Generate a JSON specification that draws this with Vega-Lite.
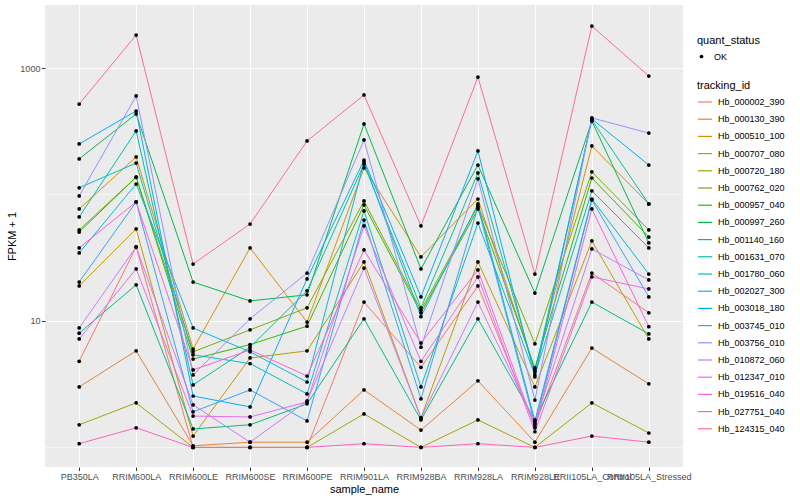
{
"$schema":"https://vega.github.io/schema/vega-lite/v6.json",
"width":638,"height":462,
"autosize":{"type":"none"},
"padding":{"left":45,"top":5,"right":117,"bottom":33},
"background":"white",
"config":{"font":"Liberation Sans","view":{"fill":"#EBEBEB","stroke":null},
"axis":{"domain":false,"gridColor":"white","gridWidth":1.1,"tickColor":"#333333","tickSize":3.6,"tickWidth":1,"labelColor":"#4D4D4D","labelFontSize":9,"labelPadding":1.5,"titleFontSize":11,"titleFontWeight":"normal","titleColor":"black"},
"legend":{"titleFontSize":11,"titleFontWeight":"normal","titleColor":"black","labelFontSize":9,"labelColor":"black","padding":0}},
"datasets":{"d":[
{"tracking_id":"Hb_000002_390","sample_name":"PB350LA","fpkm":4.8,"quant_status":"OK"},
{"tracking_id":"Hb_000002_390","sample_name":"RRIM600LA","fpkm":38.5,"quant_status":"OK"},
{"tracking_id":"Hb_000002_390","sample_name":"RRIM600LE","fpkm":1,"quant_status":"OK"},
{"tracking_id":"Hb_000002_390","sample_name":"RRIM600SE","fpkm":1,"quant_status":"OK"},
{"tracking_id":"Hb_000002_390","sample_name":"RRIM600PE","fpkm":1,"quant_status":"OK"},
{"tracking_id":"Hb_000002_390","sample_name":"RRIM901LA","fpkm":14.1,"quant_status":"OK"},
{"tracking_id":"Hb_000002_390","sample_name":"RRIM928BA","fpkm":4.3,"quant_status":"OK"},
{"tracking_id":"Hb_000002_390","sample_name":"RRIM928LA","fpkm":18.9,"quant_status":"OK"},
{"tracking_id":"Hb_000002_390","sample_name":"RRIM928LE","fpkm":1.48,"quant_status":"OK"},
{"tracking_id":"Hb_000002_390","sample_name":"RRII105LA_Control","fpkm":23.9,"quant_status":"OK"},
{"tracking_id":"Hb_000002_390","sample_name":"RRII105LA_Stressed","fpkm":11.6,"quant_status":"OK"},
{"tracking_id":"Hb_000130_390","sample_name":"PB350LA","fpkm":3.01,"quant_status":"OK"},
{"tracking_id":"Hb_000130_390","sample_name":"RRIM600LA","fpkm":5.8,"quant_status":"OK"},
{"tracking_id":"Hb_000130_390","sample_name":"RRIM600LE","fpkm":1.03,"quant_status":"OK"},
{"tracking_id":"Hb_000130_390","sample_name":"RRIM600SE","fpkm":1.1,"quant_status":"OK"},
{"tracking_id":"Hb_000130_390","sample_name":"RRIM600PE","fpkm":1.1,"quant_status":"OK"},
{"tracking_id":"Hb_000130_390","sample_name":"RRIM901LA","fpkm":2.85,"quant_status":"OK"},
{"tracking_id":"Hb_000130_390","sample_name":"RRIM928BA","fpkm":1.37,"quant_status":"OK"},
{"tracking_id":"Hb_000130_390","sample_name":"RRIM928LA","fpkm":3.36,"quant_status":"OK"},
{"tracking_id":"Hb_000130_390","sample_name":"RRIM928LE","fpkm":1.1,"quant_status":"OK"},
{"tracking_id":"Hb_000130_390","sample_name":"RRII105LA_Control","fpkm":6.1,"quant_status":"OK"},
{"tracking_id":"Hb_000130_390","sample_name":"RRII105LA_Stressed","fpkm":3.18,"quant_status":"OK"},
{"tracking_id":"Hb_000510_100","sample_name":"PB350LA","fpkm":76.8,"quant_status":"OK"},
{"tracking_id":"Hb_000510_100","sample_name":"RRIM600LA","fpkm":198,"quant_status":"OK"},
{"tracking_id":"Hb_000510_100","sample_name":"RRIM600LE","fpkm":6.0,"quant_status":"OK"},
{"tracking_id":"Hb_000510_100","sample_name":"RRIM600SE","fpkm":37.8,"quant_status":"OK"},
{"tracking_id":"Hb_000510_100","sample_name":"RRIM600PE","fpkm":9.8,"quant_status":"OK"},
{"tracking_id":"Hb_000510_100","sample_name":"RRIM901LA","fpkm":162,"quant_status":"OK"},
{"tracking_id":"Hb_000510_100","sample_name":"RRIM928BA","fpkm":32.1,"quant_status":"OK"},
{"tracking_id":"Hb_000510_100","sample_name":"RRIM928LA","fpkm":92.1,"quant_status":"OK"},
{"tracking_id":"Hb_000510_100","sample_name":"RRIM928LE","fpkm":4.1,"quant_status":"OK"},
{"tracking_id":"Hb_000510_100","sample_name":"RRII105LA_Control","fpkm":242,"quant_status":"OK"},
{"tracking_id":"Hb_000510_100","sample_name":"RRII105LA_Stressed","fpkm":84.1,"quant_status":"OK"},
{"tracking_id":"Hb_000707_080","sample_name":"PB350LA","fpkm":18.9,"quant_status":"OK"},
{"tracking_id":"Hb_000707_080","sample_name":"RRIM600LA","fpkm":53.4,"quant_status":"OK"},
{"tracking_id":"Hb_000707_080","sample_name":"RRIM600LE","fpkm":1.23,"quant_status":"OK"},
{"tracking_id":"Hb_000707_080","sample_name":"RRIM600SE","fpkm":5.1,"quant_status":"OK"},
{"tracking_id":"Hb_000707_080","sample_name":"RRIM600PE","fpkm":5.8,"quant_status":"OK"},
{"tracking_id":"Hb_000707_080","sample_name":"RRIM901LA","fpkm":29.3,"quant_status":"OK"},
{"tracking_id":"Hb_000707_080","sample_name":"RRIM928BA","fpkm":1.71,"quant_status":"OK"},
{"tracking_id":"Hb_000707_080","sample_name":"RRIM928LA","fpkm":29.3,"quant_status":"OK"},
{"tracking_id":"Hb_000707_080","sample_name":"RRIM928LE","fpkm":3.01,"quant_status":"OK"},
{"tracking_id":"Hb_000707_080","sample_name":"RRII105LA_Control","fpkm":42.9,"quant_status":"OK"},
{"tracking_id":"Hb_000707_080","sample_name":"RRII105LA_Stressed","fpkm":7.2,"quant_status":"OK"},
{"tracking_id":"Hb_000720_180","sample_name":"PB350LA","fpkm":1.51,"quant_status":"OK"},
{"tracking_id":"Hb_000720_180","sample_name":"RRIM600LA","fpkm":2.25,"quant_status":"OK"},
{"tracking_id":"Hb_000720_180","sample_name":"RRIM600LE","fpkm":1,"quant_status":"OK"},
{"tracking_id":"Hb_000720_180","sample_name":"RRIM600SE","fpkm":1,"quant_status":"OK"},
{"tracking_id":"Hb_000720_180","sample_name":"RRIM600PE","fpkm":1,"quant_status":"OK"},
{"tracking_id":"Hb_000720_180","sample_name":"RRIM901LA","fpkm":1.84,"quant_status":"OK"},
{"tracking_id":"Hb_000720_180","sample_name":"RRIM928BA","fpkm":1,"quant_status":"OK"},
{"tracking_id":"Hb_000720_180","sample_name":"RRIM928LA","fpkm":1.65,"quant_status":"OK"},
{"tracking_id":"Hb_000720_180","sample_name":"RRIM928LE","fpkm":1,"quant_status":"OK"},
{"tracking_id":"Hb_000720_180","sample_name":"RRII105LA_Control","fpkm":2.25,"quant_status":"OK"},
{"tracking_id":"Hb_000720_180","sample_name":"RRII105LA_Stressed","fpkm":1.3,"quant_status":"OK"},
{"tracking_id":"Hb_000762_020","sample_name":"PB350LA","fpkm":52.4,"quant_status":"OK"},
{"tracking_id":"Hb_000762_020","sample_name":"RRIM600LA","fpkm":137,"quant_status":"OK"},
{"tracking_id":"Hb_000762_020","sample_name":"RRIM600LE","fpkm":5.7,"quant_status":"OK"},
{"tracking_id":"Hb_000762_020","sample_name":"RRIM600SE","fpkm":8.5,"quant_status":"OK"},
{"tracking_id":"Hb_000762_020","sample_name":"RRIM600PE","fpkm":12.7,"quant_status":"OK"},
{"tracking_id":"Hb_000762_020","sample_name":"RRIM901LA","fpkm":88.9,"quant_status":"OK"},
{"tracking_id":"Hb_000762_020","sample_name":"RRIM928BA","fpkm":12.2,"quant_status":"OK"},
{"tracking_id":"Hb_000762_020","sample_name":"RRIM928LA","fpkm":81.1,"quant_status":"OK"},
{"tracking_id":"Hb_000762_020","sample_name":"RRIM928LE","fpkm":6.6,"quant_status":"OK"},
{"tracking_id":"Hb_000762_020","sample_name":"RRII105LA_Control","fpkm":151,"quant_status":"OK"},
{"tracking_id":"Hb_000762_020","sample_name":"RRII105LA_Stressed","fpkm":52.4,"quant_status":"OK"},
{"tracking_id":"Hb_000957_040","sample_name":"PB350LA","fpkm":50.5,"quant_status":"OK"},
{"tracking_id":"Hb_000957_040","sample_name":"RRIM600LA","fpkm":137,"quant_status":"OK"},
{"tracking_id":"Hb_000957_040","sample_name":"RRIM600LE","fpkm":5.0,"quant_status":"OK"},
{"tracking_id":"Hb_000957_040","sample_name":"RRIM600SE","fpkm":6.5,"quant_status":"OK"},
{"tracking_id":"Hb_000957_040","sample_name":"RRIM600PE","fpkm":9.1,"quant_status":"OK"},
{"tracking_id":"Hb_000957_040","sample_name":"RRIM901LA","fpkm":82.6,"quant_status":"OK"},
{"tracking_id":"Hb_000957_040","sample_name":"RRIM928BA","fpkm":11.6,"quant_status":"OK"},
{"tracking_id":"Hb_000957_040","sample_name":"RRIM928LA","fpkm":76.8,"quant_status":"OK"},
{"tracking_id":"Hb_000957_040","sample_name":"RRIM928LE","fpkm":4.25,"quant_status":"OK"},
{"tracking_id":"Hb_000957_040","sample_name":"RRII105LA_Control","fpkm":135,"quant_status":"OK"},
{"tracking_id":"Hb_000957_040","sample_name":"RRII105LA_Stressed","fpkm":46.1,"quant_status":"OK"},
{"tracking_id":"Hb_000997_260","sample_name":"PB350LA","fpkm":191,"quant_status":"OK"},
{"tracking_id":"Hb_000997_260","sample_name":"RRIM600LA","fpkm":433,"quant_status":"OK"},
{"tracking_id":"Hb_000997_260","sample_name":"RRIM600LE","fpkm":20.3,"quant_status":"OK"},
{"tracking_id":"Hb_000997_260","sample_name":"RRIM600SE","fpkm":14.4,"quant_status":"OK"},
{"tracking_id":"Hb_000997_260","sample_name":"RRIM600PE","fpkm":16.1,"quant_status":"OK"},
{"tracking_id":"Hb_000997_260","sample_name":"RRIM901LA","fpkm":361,"quant_status":"OK"},
{"tracking_id":"Hb_000997_260","sample_name":"RRIM928BA","fpkm":25.8,"quant_status":"OK"},
{"tracking_id":"Hb_000997_260","sample_name":"RRIM928LA","fpkm":171,"quant_status":"OK"},
{"tracking_id":"Hb_000997_260","sample_name":"RRIM928LE","fpkm":16.6,"quant_status":"OK"},
{"tracking_id":"Hb_000997_260","sample_name":"RRII105LA_Control","fpkm":381,"quant_status":"OK"},
{"tracking_id":"Hb_000997_260","sample_name":"RRII105LA_Stressed","fpkm":41.4,"quant_status":"OK"},
{"tracking_id":"Hb_001140_160","sample_name":"PB350LA","fpkm":8.0,"quant_status":"OK"},
{"tracking_id":"Hb_001140_160","sample_name":"RRIM600LA","fpkm":19.3,"quant_status":"OK"},
{"tracking_id":"Hb_001140_160","sample_name":"RRIM600LE","fpkm":1.4,"quant_status":"OK"},
{"tracking_id":"Hb_001140_160","sample_name":"RRIM600SE","fpkm":1.51,"quant_status":"OK"},
{"tracking_id":"Hb_001140_160","sample_name":"RRIM600PE","fpkm":2.21,"quant_status":"OK"},
{"tracking_id":"Hb_001140_160","sample_name":"RRIM901LA","fpkm":10.4,"quant_status":"OK"},
{"tracking_id":"Hb_001140_160","sample_name":"RRIM928BA","fpkm":1.65,"quant_status":"OK"},
{"tracking_id":"Hb_001140_160","sample_name":"RRIM928LA","fpkm":10.4,"quant_status":"OK"},
{"tracking_id":"Hb_001140_160","sample_name":"RRIM928LE","fpkm":1.65,"quant_status":"OK"},
{"tracking_id":"Hb_001140_160","sample_name":"RRII105LA_Control","fpkm":14.1,"quant_status":"OK"},
{"tracking_id":"Hb_001140_160","sample_name":"RRII105LA_Stressed","fpkm":7.9,"quant_status":"OK"},
{"tracking_id":"Hb_001631_070","sample_name":"PB350LA","fpkm":66.4,"quant_status":"OK"},
{"tracking_id":"Hb_001631_070","sample_name":"RRIM600LA","fpkm":318,"quant_status":"OK"},
{"tracking_id":"Hb_001631_070","sample_name":"RRIM600LE","fpkm":3.12,"quant_status":"OK"},
{"tracking_id":"Hb_001631_070","sample_name":"RRIM600SE","fpkm":6.2,"quant_status":"OK"},
{"tracking_id":"Hb_001631_070","sample_name":"RRIM600PE","fpkm":17.3,"quant_status":"OK"},
{"tracking_id":"Hb_001631_070","sample_name":"RRIM901LA","fpkm":174,"quant_status":"OK"},
{"tracking_id":"Hb_001631_070","sample_name":"RRIM928BA","fpkm":12.7,"quant_status":"OK"},
{"tracking_id":"Hb_001631_070","sample_name":"RRIM928LA","fpkm":148,"quant_status":"OK"},
{"tracking_id":"Hb_001631_070","sample_name":"RRIM928LE","fpkm":3.95,"quant_status":"OK"},
{"tracking_id":"Hb_001631_070","sample_name":"RRII105LA_Control","fpkm":388,"quant_status":"OK"},
{"tracking_id":"Hb_001631_070","sample_name":"RRII105LA_Stressed","fpkm":84.1,"quant_status":"OK"},
{"tracking_id":"Hb_001780_060","sample_name":"PB350LA","fpkm":113,"quant_status":"OK"},
{"tracking_id":"Hb_001780_060","sample_name":"RRIM600LA","fpkm":177,"quant_status":"OK"},
{"tracking_id":"Hb_001780_060","sample_name":"RRIM600LE","fpkm":5.4,"quant_status":"OK"},
{"tracking_id":"Hb_001780_060","sample_name":"RRIM600SE","fpkm":4.6,"quant_status":"OK"},
{"tracking_id":"Hb_001780_060","sample_name":"RRIM600PE","fpkm":2.65,"quant_status":"OK"},
{"tracking_id":"Hb_001780_060","sample_name":"RRIM901LA","fpkm":74.1,"quant_status":"OK"},
{"tracking_id":"Hb_001780_060","sample_name":"RRIM928BA","fpkm":3.01,"quant_status":"OK"},
{"tracking_id":"Hb_001780_060","sample_name":"RRIM928LA","fpkm":59.5,"quant_status":"OK"},
{"tracking_id":"Hb_001780_060","sample_name":"RRIM928LE","fpkm":3.74,"quant_status":"OK"},
{"tracking_id":"Hb_001780_060","sample_name":"RRII105LA_Control","fpkm":107,"quant_status":"OK"},
{"tracking_id":"Hb_001780_060","sample_name":"RRII105LA_Stressed","fpkm":37.8,"quant_status":"OK"},
{"tracking_id":"Hb_002027_300","sample_name":"PB350LA","fpkm":34.5,"quant_status":"OK"},
{"tracking_id":"Hb_002027_300","sample_name":"RRIM600LA","fpkm":121,"quant_status":"OK"},
{"tracking_id":"Hb_002027_300","sample_name":"RRIM600LE","fpkm":8.8,"quant_status":"OK"},
{"tracking_id":"Hb_002027_300","sample_name":"RRIM600SE","fpkm":5.7,"quant_status":"OK"},
{"tracking_id":"Hb_002027_300","sample_name":"RRIM600PE","fpkm":3.29,"quant_status":"OK"},
{"tracking_id":"Hb_002027_300","sample_name":"RRIM901LA","fpkm":181,"quant_status":"OK"},
{"tracking_id":"Hb_002027_300","sample_name":"RRIM928BA","fpkm":10.8,"quant_status":"OK"},
{"tracking_id":"Hb_002027_300","sample_name":"RRIM928LA","fpkm":84.1,"quant_status":"OK"},
{"tracking_id":"Hb_002027_300","sample_name":"RRIM928LE","fpkm":1.62,"quant_status":"OK"},
{"tracking_id":"Hb_002027_300","sample_name":"RRII105LA_Control","fpkm":92.1,"quant_status":"OK"},
{"tracking_id":"Hb_002027_300","sample_name":"RRII105LA_Stressed","fpkm":23.5,"quant_status":"OK"},
{"tracking_id":"Hb_003018_180","sample_name":"PB350LA","fpkm":251,"quant_status":"OK"},
{"tracking_id":"Hb_003018_180","sample_name":"RRIM600LA","fpkm":457,"quant_status":"OK"},
{"tracking_id":"Hb_003018_180","sample_name":"RRIM600LE","fpkm":2.55,"quant_status":"OK"},
{"tracking_id":"Hb_003018_180","sample_name":"RRIM600SE","fpkm":2.09,"quant_status":"OK"},
{"tracking_id":"Hb_003018_180","sample_name":"RRIM600PE","fpkm":21.5,"quant_status":"OK"},
{"tracking_id":"Hb_003018_180","sample_name":"RRIM901LA","fpkm":187,"quant_status":"OK"},
{"tracking_id":"Hb_003018_180","sample_name":"RRIM928BA","fpkm":15.5,"quant_status":"OK"},
{"tracking_id":"Hb_003018_180","sample_name":"RRIM928LA","fpkm":221,"quant_status":"OK"},
{"tracking_id":"Hb_003018_180","sample_name":"RRIM928LE","fpkm":3.61,"quant_status":"OK"},
{"tracking_id":"Hb_003018_180","sample_name":"RRII105LA_Control","fpkm":396,"quant_status":"OK"},
{"tracking_id":"Hb_003018_180","sample_name":"RRII105LA_Stressed","fpkm":171,"quant_status":"OK"},
{"tracking_id":"Hb_003745_010","sample_name":"PB350LA","fpkm":20.3,"quant_status":"OK"},
{"tracking_id":"Hb_003745_010","sample_name":"RRIM600LA","fpkm":87.3,"quant_status":"OK"},
{"tracking_id":"Hb_003745_010","sample_name":"RRIM600LE","fpkm":1.91,"quant_status":"OK"},
{"tracking_id":"Hb_003745_010","sample_name":"RRIM600SE","fpkm":2.85,"quant_status":"OK"},
{"tracking_id":"Hb_003745_010","sample_name":"RRIM600PE","fpkm":1.62,"quant_status":"OK"},
{"tracking_id":"Hb_003745_010","sample_name":"RRIM901LA","fpkm":62.8,"quant_status":"OK"},
{"tracking_id":"Hb_003745_010","sample_name":"RRIM928BA","fpkm":2.42,"quant_status":"OK"},
{"tracking_id":"Hb_003745_010","sample_name":"RRIM928LA","fpkm":79.6,"quant_status":"OK"},
{"tracking_id":"Hb_003745_010","sample_name":"RRIM928LE","fpkm":1.53,"quant_status":"OK"},
{"tracking_id":"Hb_003745_010","sample_name":"RRII105LA_Control","fpkm":90.5,"quant_status":"OK"},
{"tracking_id":"Hb_003745_010","sample_name":"RRII105LA_Stressed","fpkm":15.5,"quant_status":"OK"},
{"tracking_id":"Hb_003756_010","sample_name":"PB350LA","fpkm":97.3,"quant_status":"OK"},
{"tracking_id":"Hb_003756_010","sample_name":"RRIM600LA","fpkm":601,"quant_status":"OK"},
{"tracking_id":"Hb_003756_010","sample_name":"RRIM600LE","fpkm":3.74,"quant_status":"OK"},
{"tracking_id":"Hb_003756_010","sample_name":"RRIM600SE","fpkm":10.4,"quant_status":"OK"},
{"tracking_id":"Hb_003756_010","sample_name":"RRIM600PE","fpkm":23.9,"quant_status":"OK"},
{"tracking_id":"Hb_003756_010","sample_name":"RRIM901LA","fpkm":270,"quant_status":"OK"},
{"tracking_id":"Hb_003756_010","sample_name":"RRIM928BA","fpkm":6.2,"quant_status":"OK"},
{"tracking_id":"Hb_003756_010","sample_name":"RRIM928LA","fpkm":133,"quant_status":"OK"},
{"tracking_id":"Hb_003756_010","sample_name":"RRIM928LE","fpkm":2.37,"quant_status":"OK"},
{"tracking_id":"Hb_003756_010","sample_name":"RRII105LA_Control","fpkm":403,"quant_status":"OK"},
{"tracking_id":"Hb_003756_010","sample_name":"RRII105LA_Stressed","fpkm":306,"quant_status":"OK"},
{"tracking_id":"Hb_010872_060","sample_name":"PB350LA","fpkm":8.8,"quant_status":"OK"},
{"tracking_id":"Hb_010872_060","sample_name":"RRIM600LA","fpkm":38.5,"quant_status":"OK"},
{"tracking_id":"Hb_010872_060","sample_name":"RRIM600LE","fpkm":2.17,"quant_status":"OK"},
{"tracking_id":"Hb_010872_060","sample_name":"RRIM600SE","fpkm":1.1,"quant_status":"OK"},
{"tracking_id":"Hb_010872_060","sample_name":"RRIM600PE","fpkm":2.33,"quant_status":"OK"},
{"tracking_id":"Hb_010872_060","sample_name":"RRIM901LA","fpkm":26.2,"quant_status":"OK"},
{"tracking_id":"Hb_010872_060","sample_name":"RRIM928BA","fpkm":1.71,"quant_status":"OK"},
{"tracking_id":"Hb_010872_060","sample_name":"RRIM928LA","fpkm":14.1,"quant_status":"OK"},
{"tracking_id":"Hb_010872_060","sample_name":"RRIM928LE","fpkm":1.56,"quant_status":"OK"},
{"tracking_id":"Hb_010872_060","sample_name":"RRII105LA_Control","fpkm":37.1,"quant_status":"OK"},
{"tracking_id":"Hb_010872_060","sample_name":"RRII105LA_Stressed","fpkm":21.1,"quant_status":"OK"},
{"tracking_id":"Hb_012347_010","sample_name":"PB350LA","fpkm":7.2,"quant_status":"OK"},
{"tracking_id":"Hb_012347_010","sample_name":"RRIM600LA","fpkm":25.8,"quant_status":"OK"},
{"tracking_id":"Hb_012347_010","sample_name":"RRIM600LE","fpkm":1.77,"quant_status":"OK"},
{"tracking_id":"Hb_012347_010","sample_name":"RRIM600SE","fpkm":1.74,"quant_status":"OK"},
{"tracking_id":"Hb_012347_010","sample_name":"RRIM600PE","fpkm":2.29,"quant_status":"OK"},
{"tracking_id":"Hb_012347_010","sample_name":"RRIM901LA","fpkm":56.4,"quant_status":"OK"},
{"tracking_id":"Hb_012347_010","sample_name":"RRIM928BA","fpkm":4.8,"quant_status":"OK"},
{"tracking_id":"Hb_012347_010","sample_name":"RRIM928LA","fpkm":22.3,"quant_status":"OK"},
{"tracking_id":"Hb_012347_010","sample_name":"RRIM928LE","fpkm":1.33,"quant_status":"OK"},
{"tracking_id":"Hb_012347_010","sample_name":"RRII105LA_Control","fpkm":22.3,"quant_status":"OK"},
{"tracking_id":"Hb_012347_010","sample_name":"RRII105LA_Stressed","fpkm":17.9,"quant_status":"OK"},
{"tracking_id":"Hb_019516_040","sample_name":"PB350LA","fpkm":37.8,"quant_status":"OK"},
{"tracking_id":"Hb_019516_040","sample_name":"RRIM600LA","fpkm":87.3,"quant_status":"OK"},
{"tracking_id":"Hb_019516_040","sample_name":"RRIM600LE","fpkm":4.1,"quant_status":"OK"},
{"tracking_id":"Hb_019516_040","sample_name":"RRIM600SE","fpkm":5.9,"quant_status":"OK"},
{"tracking_id":"Hb_019516_040","sample_name":"RRIM600PE","fpkm":3.67,"quant_status":"OK"},
{"tracking_id":"Hb_019516_040","sample_name":"RRIM901LA","fpkm":36.4,"quant_status":"OK"},
{"tracking_id":"Hb_019516_040","sample_name":"RRIM928BA","fpkm":6.7,"quant_status":"OK"},
{"tracking_id":"Hb_019516_040","sample_name":"RRIM928LA","fpkm":25.3,"quant_status":"OK"},
{"tracking_id":"Hb_019516_040","sample_name":"RRIM928LE","fpkm":1.43,"quant_status":"OK"},
{"tracking_id":"Hb_019516_040","sample_name":"RRII105LA_Control","fpkm":76.8,"quant_status":"OK"},
{"tracking_id":"Hb_019516_040","sample_name":"RRII105LA_Stressed","fpkm":9.0,"quant_status":"OK"},
{"tracking_id":"Hb_027751_040","sample_name":"PB350LA","fpkm":1.07,"quant_status":"OK"},
{"tracking_id":"Hb_027751_040","sample_name":"RRIM600LA","fpkm":1.43,"quant_status":"OK"},
{"tracking_id":"Hb_027751_040","sample_name":"RRIM600LE","fpkm":1,"quant_status":"OK"},
{"tracking_id":"Hb_027751_040","sample_name":"RRIM600SE","fpkm":1,"quant_status":"OK"},
{"tracking_id":"Hb_027751_040","sample_name":"RRIM600PE","fpkm":1,"quant_status":"OK"},
{"tracking_id":"Hb_027751_040","sample_name":"RRIM901LA","fpkm":1.07,"quant_status":"OK"},
{"tracking_id":"Hb_027751_040","sample_name":"RRIM928BA","fpkm":1,"quant_status":"OK"},
{"tracking_id":"Hb_027751_040","sample_name":"RRIM928LA","fpkm":1.07,"quant_status":"OK"},
{"tracking_id":"Hb_027751_040","sample_name":"RRIM928LE","fpkm":1,"quant_status":"OK"},
{"tracking_id":"Hb_027751_040","sample_name":"RRII105LA_Control","fpkm":1.23,"quant_status":"OK"},
{"tracking_id":"Hb_027751_040","sample_name":"RRII105LA_Stressed","fpkm":1.1,"quant_status":"OK"},
{"tracking_id":"Hb_124315_040","sample_name":"PB350LA","fpkm":519,"quant_status":"OK"},
{"tracking_id":"Hb_124315_040","sample_name":"RRIM600LA","fpkm":1824,"quant_status":"OK"},
{"tracking_id":"Hb_124315_040","sample_name":"RRIM600LE","fpkm":28.2,"quant_status":"OK"},
{"tracking_id":"Hb_124315_040","sample_name":"RRIM600SE","fpkm":58.4,"quant_status":"OK"},
{"tracking_id":"Hb_124315_040","sample_name":"RRIM600PE","fpkm":265,"quant_status":"OK"},
{"tracking_id":"Hb_124315_040","sample_name":"RRIM901LA","fpkm":612,"quant_status":"OK"},
{"tracking_id":"Hb_124315_040","sample_name":"RRIM928BA","fpkm":56.4,"quant_status":"OK"},
{"tracking_id":"Hb_124315_040","sample_name":"RRIM928LA","fpkm":849,"quant_status":"OK"},
{"tracking_id":"Hb_124315_040","sample_name":"RRIM928LE","fpkm":23.5,"quant_status":"OK"},
{"tracking_id":"Hb_124315_040","sample_name":"RRII105LA_Control","fpkm":2148,"quant_status":"OK"},
{"tracking_id":"Hb_124315_040","sample_name":"RRII105LA_Stressed","fpkm":864,"quant_status":"OK"}
]},
"data":{"name":"d"},
"encoding":{
"x":{"field":"sample_name","type":"nominal","sort":["PB350LA","RRIM600LA","RRIM600LE","RRIM600SE","RRIM600PE","RRIM901LA","RRIM928BA","RRIM928LA","RRIM928LE","RRII105LA_Control","RRII105LA_Stressed"],"scale":{"type":"point","padding":0.6},"axis":{"title":"sample_name","labelAngle":0,"labelOverlap":false,"grid":true,"titlePadding":2}},
"y":{"field":"fpkm","type":"quantitative","scale":{"type":"log","domain":[0.7,3150],"nice":false},"axis":{"title":"FPKM + 1","values":[1,10,100,1000],"grid":true,"labelExpr":"datum.value == 10 || datum.value == 1000 ? format(datum.value, 'd') : ''","tickOpacity":{"condition":{"test":"datum.value == 1 || datum.value == 100","value":0},"value":1},"gridWidth":{"condition":{"test":"datum.value == 1 || datum.value == 100","value":0.55},"value":1.1},"titleX":-28}}
},
"layer":[
{"mark":{"type":"line","strokeWidth":1},"encoding":{"order":{"value":null},"color":{"field":"tracking_id","type":"nominal","scale":{"domain":["Hb_000002_390","Hb_000130_390","Hb_000510_100","Hb_000707_080","Hb_000720_180","Hb_000762_020","Hb_000957_040","Hb_000997_260","Hb_001140_160","Hb_001631_070","Hb_001780_060","Hb_002027_300","Hb_003018_180","Hb_003745_010","Hb_003756_010","Hb_010872_060","Hb_012347_010","Hb_019516_040","Hb_027751_040","Hb_124315_040"],"range":["#F8766D","#EA8331","#D89000","#C09B00","#A3A500","#7CAE00","#39B600","#00BB4E","#00BF7D","#00C1A3","#00BFC4","#00BAE0","#00B0F6","#35A2FF","#9590FF","#C77CFF","#E76BF3","#FA62DB","#FF62BC","#FF6C91"]},"legend":{"title":"tracking_id","orient":"none","legendX":652,"legendY":75,"symbolType":"stroke","symbolStrokeWidth":1.2,"symbolSize":200,"rowPadding":4.2,"titlePadding":3,"labelOffset":5}}}},
{"mark":{"type":"point","filled":true,"size":14,"opacity":1,"color":"black"},"encoding":{"shape":{"field":"quant_status","type":"nominal","scale":{"range":["circle"]},"legend":{"title":"quant_status","orient":"none","legendX":652,"legendY":30,"symbolSize":14,"symbolFillColor":"black","symbolStrokeColor":"black","titlePadding":6,"labelOffset":8}}}}
]
}
